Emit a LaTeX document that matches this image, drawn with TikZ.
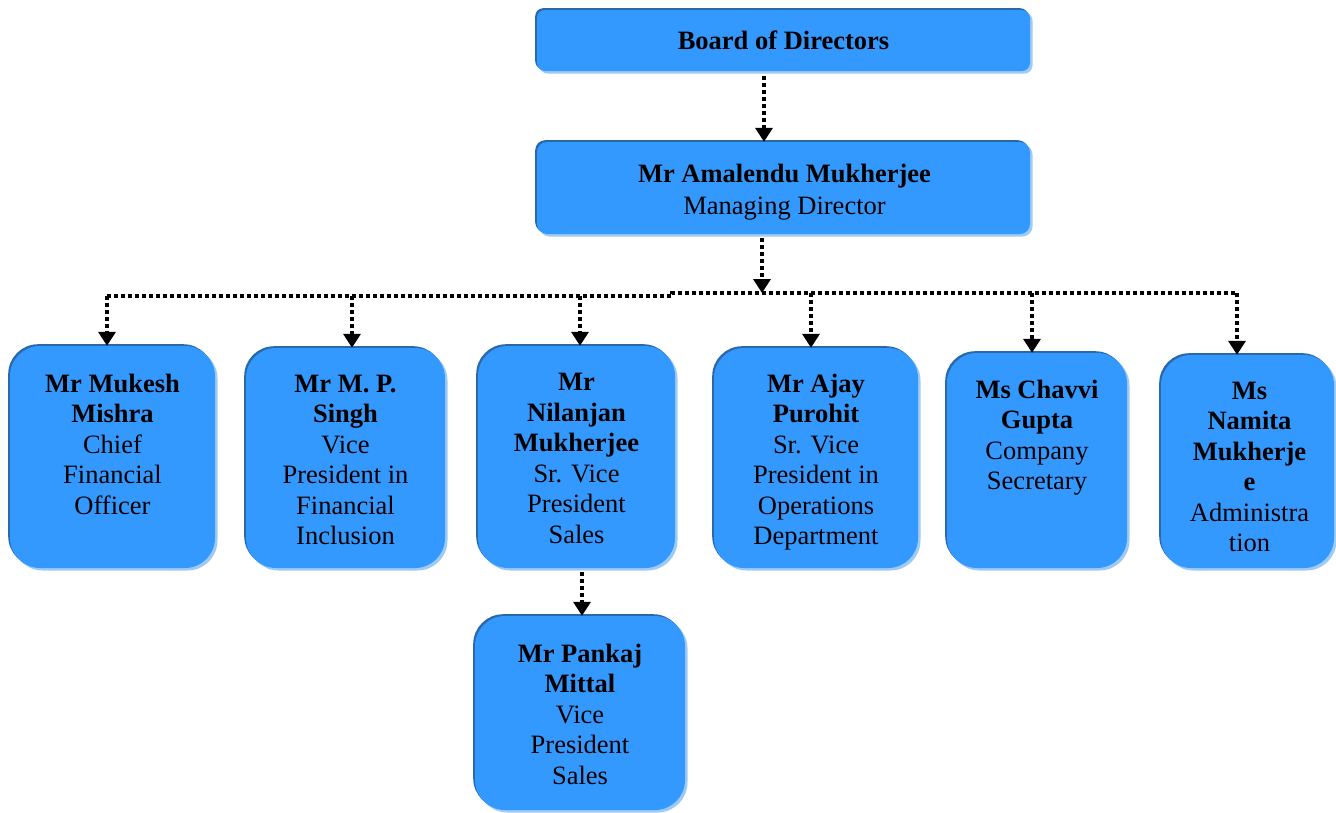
\documentclass[tikz,border=0pt]{standalone}
\usepackage{fontspec}
\setmainfont{Liberation Serif}
\usetikzlibrary{arrows.meta,shadows}
\definecolor{boxfill}{HTML}{3399FF}
\definecolor{boxdark}{HTML}{2A68AC}
\definecolor{boxlight}{HTML}{9ECBF5}
\tikzset{
  orgbox/.style={fill=boxfill, inner sep=0pt,
    general shadow={fill=boxlight, shadow xshift=2.5pt, shadow yshift=-2.5pt},
    general shadow={fill=boxdark, shadow xshift=-1.8pt, shadow yshift=1.8pt}},
  bigfont/.style={font=\fontsize{26.5}{32}\selectfont},
  txt/.style={font=\fontsize{26.5}{30.5}\selectfont, align=center, inner sep=0pt, anchor=north},
  bus/.style={line width=3.4pt, dash pattern=on 4pt off 3pt},
  conn/.style={bus, -{Triangle[width=17pt,length=14pt]}}
}
\begin{document}
\begin{tikzpicture}[x=1pt,y=-1pt]
\useasboundingbox (0,0) rectangle (1336,812);
% top boxes
\node[orgbox, rounded corners=8pt, minimum width=493pt, minimum height=61pt, bigfont] (board) at (783.5,40.5) {\textbf{Board of Directors}};
\node[orgbox, rounded corners=10pt, minimum width=493pt, minimum height=92pt] (md) at (783.5,188) {};
\node[bigfont, align=center, inner sep=0pt] (tmd) at ([xshift=1pt,yshift=-4pt]md.center) {\textbf{Mr Amalendu Mukherjee}\\Managing Director};
% children boxes
\node[orgbox, rounded corners=30pt, minimum width=205pt, minimum height=222pt] (mukesh) at (112.5,457) {};
\node[orgbox, rounded corners=30pt, minimum width=199pt, minimum height=220pt] (singh) at (345.5,458) {};
\node[orgbox, rounded corners=30pt, minimum width=197pt, minimum height=222pt] (nilanjan) at (576.5,457) {};
\node[orgbox, rounded corners=30pt, minimum width=204pt, minimum height=220pt] (ajay) at (816,458) {};
\node[orgbox, rounded corners=30pt, minimum width=180pt, minimum height=215pt] (chavvi) at (1037,460.5) {};
\node[orgbox, rounded corners=30pt, minimum width=173pt, minimum height=213pt] (namita) at (1247.5,461.5) {};
\node[orgbox, rounded corners=30pt, minimum width=210pt, minimum height=194pt] (pankaj) at (580,713) {};
% texts
\node[txt] (tmukesh) at ([yshift=-28pt]mukesh.north) {\textbf{Mr Mukesh}\\\textbf{Mishra}\\Chief\\Financial\\Officer};
\node[txt] (tsingh) at ([yshift=-27pt]singh.north) {\textbf{Mr M. P.}\\\textbf{Singh}\\Vice\\President in\\Financial\\Inclusion};
\node[txt] (tnilanjan) at ([yshift=-27.5pt]nilanjan.north) {\textbf{Mr}\\\textbf{Nilanjan}\\\textbf{Mukherjee}\\Sr. Vice\\President\\Sales};
\node[txt] (tajay) at ([yshift=-26pt]ajay.north) {\textbf{Mr Ajay}\\\textbf{Purohit}\\Sr. Vice\\President in\\Operations\\Department};
\node[txt] (tchavvi) at ([yshift=-27pt]chavvi.north) {\textbf{Ms Chavvi}\\\textbf{Gupta}\\Company\\Secretary};
\node[txt] (tnamita) at ([xshift=2pt,yshift=-27pt]namita.north) {\textbf{Ms}\\\textbf{Namita}\\\textbf{Mukherje}\\\textbf{e}\\Administra\\tion};
\node[txt] (tpankaj) at ([yshift=-28pt]pankaj.north) {\textbf{Mr Pankaj}\\\textbf{Mittal}\\Vice\\President\\Sales};
% bus coordinates
\coordinate (bL) at (107,296);
\coordinate (bM) at (672,296);
\coordinate (bN) at (672,293);
\coordinate (bR) at (1237,293);
\coordinate (bmd) at (762,293);
\coordinate (bdtop) at (764,76);
\coordinate (mdbot) at (762,238);
\coordinate (c2) at (352,296);
\coordinate (c3) at (580,296);
\coordinate (c4) at (811,293);
\coordinate (c5) at (1032,293);
\coordinate (c7) at (582,572);
% connectors
\draw[conn] (bdtop) -- (bdtop |- md.north);
\draw[conn] (mdbot) -- (bmd);
\draw[bus] (bL) -- (bM) -- (bN) -- (bR);
\draw[conn] (bL) -- (bL |- mukesh.north);
\draw[conn] (c2) -- (c2 |- singh.north);
\draw[conn] (c3) -- (c3 |- nilanjan.north);
\draw[conn] (c4) -- (c4 |- ajay.north);
\draw[conn] (c5) -- (c5 |- chavvi.north);
\draw[conn] (bR) -- (bR |- namita.north);
\draw[conn] (c7) -- (c7 |- pankaj.north);
\end{tikzpicture}
\end{document}
